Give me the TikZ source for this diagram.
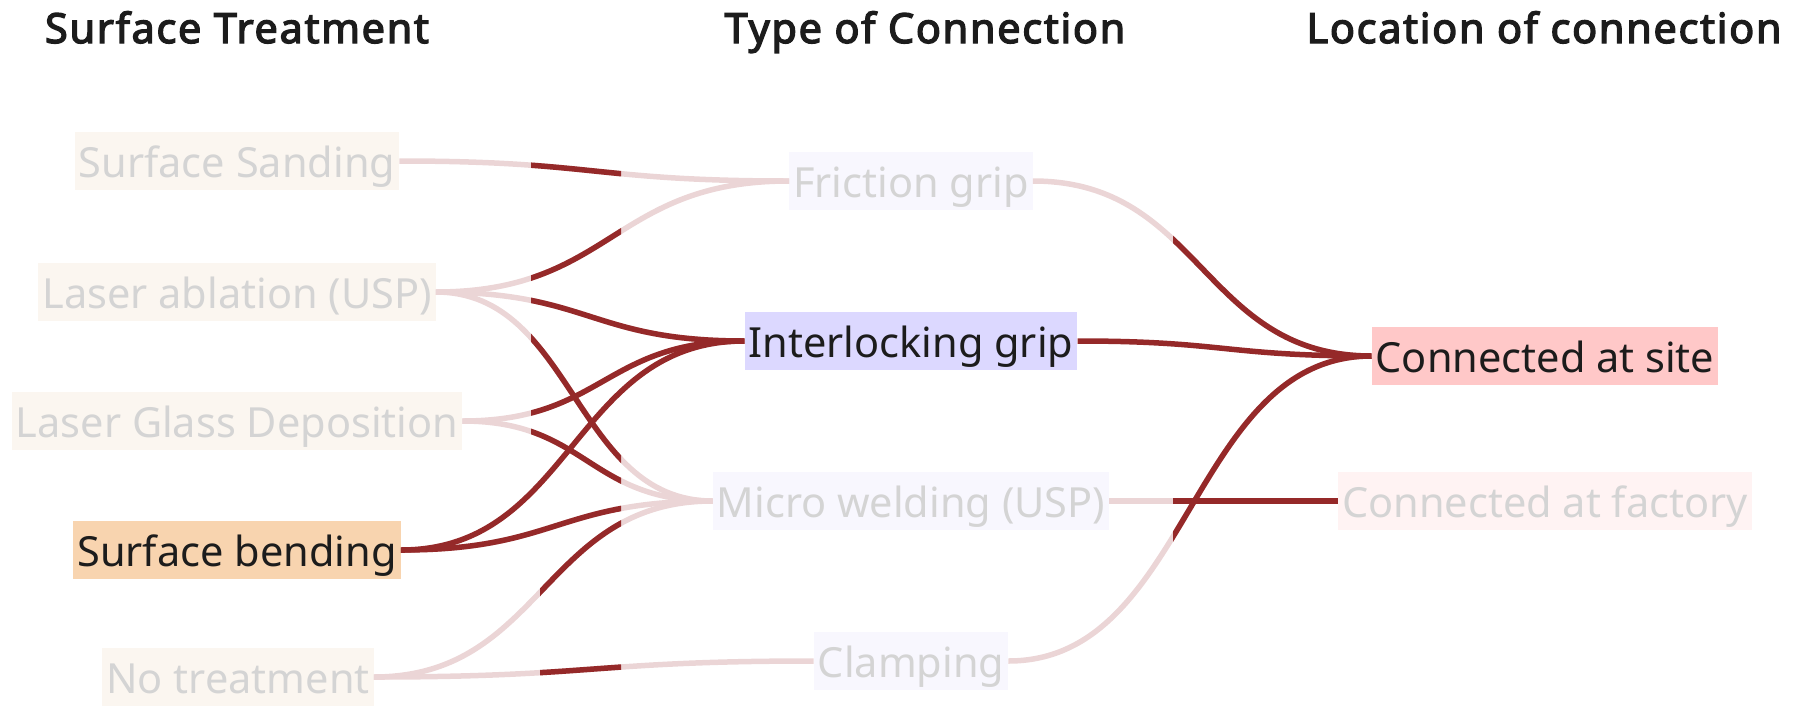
\documentclass[tikz,border=0pt]{standalone}
\usepackage{fontspec}
\setmainfont{Noto Sans}
\newfontfamily\headfont{Noto Sans}[FakeBold=3.2, LetterSpace=4]
\usetikzlibrary{calc}
\definecolor{lnkc}{HTML}{EBD5D6}
\definecolor{hlc}{HTML}{952929}
\definecolor{fadetxt}{HTML}{D4D4D4}
\definecolor{darktxt}{HTML}{1C1C1C}
\definecolor{leftfill}{HTML}{FBF6F0}
\definecolor{midfill}{HTML}{F8F7FE}
\definecolor{rightfill}{HTML}{FFF3F3}
\definecolor{bendfill}{HTML}{F8D4AF}
\definecolor{interfill}{HTML}{DCD8FF}
\definecolor{sitefill}{HTML}{FFC8C8}
\newcommand\lnk[3][]{\draw[#1] let \p1=(#2.east), \p2=(#3.west), \p3=($(\p1)!0.5!(\p2)$) in (\p1) .. controls (\x3,\y1) and (\x3,\y2) .. (\p2);}
\begin{document}
\begin{tikzpicture}[x=1pt,y=-1pt,
  box/.style={inner xsep=4pt, inner ysep=0.5pt, text height=45pt, text depth=12pt, font=\fontsize{41.5}{48}\selectfont},
  fadeleft/.style={box, fill=leftfill, text=fadetxt},
  fademid/.style={box, fill=midfill, text=fadetxt},
  faderight/.style={box, fill=rightfill, text=fadetxt},
  head/.style={anchor=base, font=\headfont\fontsize{41.5}{48}\selectfont, text=darktxt, inner sep=0pt},
  lightlink/.style={draw=lnkc, line width=5.5pt},
  darklink/.style={draw=hlc, line width=5.5pt}]
\useasboundingbox (0,0) rectangle (1793,705);
% headings
\node[head] (h1) at (237,43) {Surface Treatment};
\node[head] (h2) at (925,43) {Type of Connection};
\node[head] (h3) at (1544,43) {Location of connection};
% left column
\node[fadeleft] (ss) at (237,161) {Surface Sanding};
\node[fadeleft] (la) at (237,292) {Laser ablation (USP)};
\node[fadeleft] (lgd) at (237,421) {Laser Glass Deposition};
\node[box, fill=bendfill, text=darktxt] (sb) at (237,550) {Surface bending};
\node[fadeleft] (nt) at (238,677) {No treatment};
% middle column
\node[fademid] (fg) at (911,181) {Friction grip};
\node[box, fill=interfill, text=darktxt] (ig) at (911,341) {Interlocking grip};
\node[fademid] (mw) at (911,501) {Micro welding (USP)};
\node[fademid] (cl) at (911,661) {Clamping};
% right column
\node[box, fill=sitefill, text=darktxt] (site) at (1545,356) {Connected at site};
\node[faderight] (fac) at (1545,501) {Connected at factory};
% light links
\lnk[lightlink]{ss}{fg}
\lnk[lightlink]{la}{fg}
\lnk[lightlink]{la}{ig}
\lnk[lightlink]{la}{mw}
\lnk[lightlink]{lgd}{ig}
\lnk[lightlink]{lgd}{mw}
\lnk[lightlink]{sb}{mw}
\lnk[lightlink]{nt}{mw}
\lnk[lightlink]{nt}{cl}
\lnk[lightlink]{fg}{site}
\lnk[lightlink]{mw}{fac}
\lnk[lightlink]{cl}{site}
% highlighted parts
\begin{scope}
\clip (531,0) rectangle (621,705);
\lnk[darklink]{ss}{fg}
\lnk[darklink]{la}{fg}
\lnk[darklink]{la}{mw}
\lnk[darklink]{lgd}{mw}
\end{scope}
\begin{scope}
\clip (540,0) rectangle (621,705);
\lnk[darklink]{nt}{mw}
\lnk[darklink]{nt}{cl}
\end{scope}
\begin{scope}
\clip (531,0) rectangle (760,705);
\lnk[darklink]{la}{ig}
\lnk[darklink]{lgd}{ig}
\end{scope}
\begin{scope}
\clip (0,0) rectangle (621,705);
\lnk[darklink]{sb}{mw}
\end{scope}
\lnk[darklink]{sb}{ig}
\begin{scope}
\clip (1173,0) rectangle (1400,705);
\lnk[darklink]{fg}{site}
\lnk[darklink]{cl}{site}
\lnk[darklink]{mw}{fac}
\end{scope}
\lnk[darklink]{ig}{site}
\end{tikzpicture}
\end{document}
